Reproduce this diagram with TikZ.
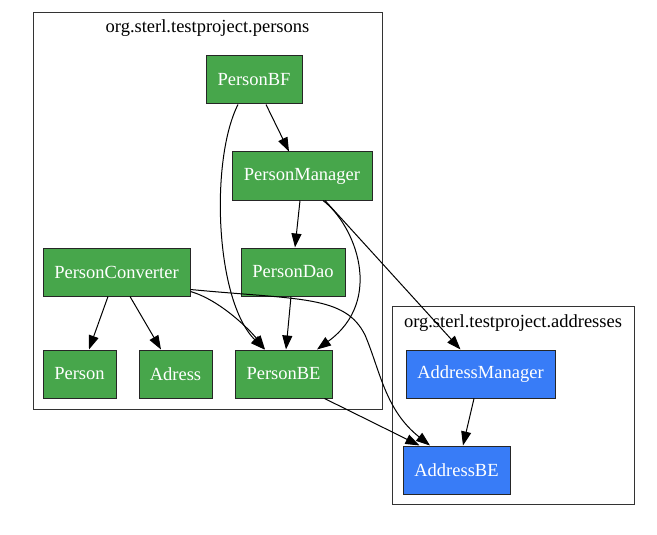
\documentclass[tikz,border=0pt]{standalone}
\usepackage{fontspec}
\setmainfont{Liberation Serif}
\usepackage{tikz}
\usetikzlibrary{calc,positioning,arrows,shapes}
\usetikzlibrary{arrows.meta}
\tikzset{
	x=1pt, y=-1pt,
	every node/.style={font=\fontsize{18.5}{22}\selectfont},
	cls/.style={draw=black!80, line width=1pt, inner sep=0pt},
	clstitle/.style={inner sep=0pt, text=black},
	pnode/.style={draw=black!85, line width=1pt, fill=pgreen, text=white, minimum height=48pt, inner sep=0pt},
	anode/.style={pnode, fill=ablue},
	dep/.style={-{Triangle[length=14pt,width=10pt]}, line width=1pt, black},
}
\definecolor{pgreen}{RGB}{71,166,75}
\definecolor{ablue}{RGB}{56,124,247}

\begin{document}
\begin{tikzpicture}
		\useasboundingbox[fill=white] (0,0) rectangle (657,535);

		% clusters
		\node[cls, minimum width=349pt, minimum height=396pt] (persons) at (207.5,211) {};
		\node[clstitle] (personsTitle) at (207.5,28) {org.sterl.testproject.persons};
		\node[cls, minimum width=242pt, minimum height=198pt] (addresses) at (513,405) {};
		\node[clstitle] (addressesTitle) at (513,323) {org.sterl.testproject.addresses};

		% persons
		\node[pnode, minimum width=96pt] (PersonBF) at (254,80) {PersonBF};
		\node[pnode, minimum width=140pt] (PersonManager) at (302,176) {PersonManager};
		\node[pnode, minimum width=147pt] (PersonConverter) at (116.5,272) {PersonConverter};
		\node[pnode, minimum width=104pt] (PersonDao) at (293,272) {PersonDao};
		\node[pnode, minimum width=73pt] (Person) at (79.5,374) {Person};
		\node[pnode, minimum width=73pt] (Adress) at (175.5,374) {Adress};
		\node[pnode, minimum width=97pt] (PersonBE) at (283.5,374) {PersonBE};

		% addresses
		\node[anode, minimum width=149pt] (AddressManager) at (480.5,374) {AddressManager};
		\node[anode, minimum width=107pt] (AddressBE) at (456.5,470) {AddressBE};

		\draw[dep] ([xshift=12pt]PersonBF.south) -- ([xshift=-13pt]PersonManager.north);
		\draw[dep] ([xshift=-16pt]PersonBF.south) .. controls (210,160) and (215,300) .. ([xshift=-19pt]PersonBE.north);
		\draw[dep] ([xshift=-2pt]PersonManager.south) -- ([xshift=2pt]PersonDao.north);
		\draw[dep] ([xshift=21pt]PersonManager.south) .. controls (355,225) and (385,300) .. ([xshift=33.5pt]PersonBE.north);
		\draw[dep] ([xshift=23pt]PersonManager.south) -- ([xshift=-20pt]AddressManager.north);
		\draw[dep] ([xshift=-2pt]PersonDao.south) -- ([xshift=2.5pt]PersonBE.north);
		\draw[dep] ([xshift=-8.5pt]PersonConverter.south) -- ([xshift=9.5pt]Person.north);
		\draw[dep] ([xshift=13.5pt]PersonConverter.south) -- ([xshift=-14.5pt]Adress.north);
		\draw[dep] ([yshift=5pt]PersonConverter.south east) .. controls (220,300) and (250,330) .. ([xshift=-18.5pt]PersonBE.north);
		\draw[dep] ([yshift=7pt]PersonConverter.south east) .. controls (300,300) and (345,295) .. (365,335)
			.. controls (380,370) and (385,410) .. ([xshift=-26.5pt]AddressBE.north);
		\draw[dep] ([xshift=-8pt]PersonBE.south east) -- ([xshift=17pt]AddressBE.north west);
		\draw[dep] ([xshift=-6.5pt]AddressManager.south) -- ([xshift=6.5pt]AddressBE.north);
	\end{tikzpicture}
\end{document}
